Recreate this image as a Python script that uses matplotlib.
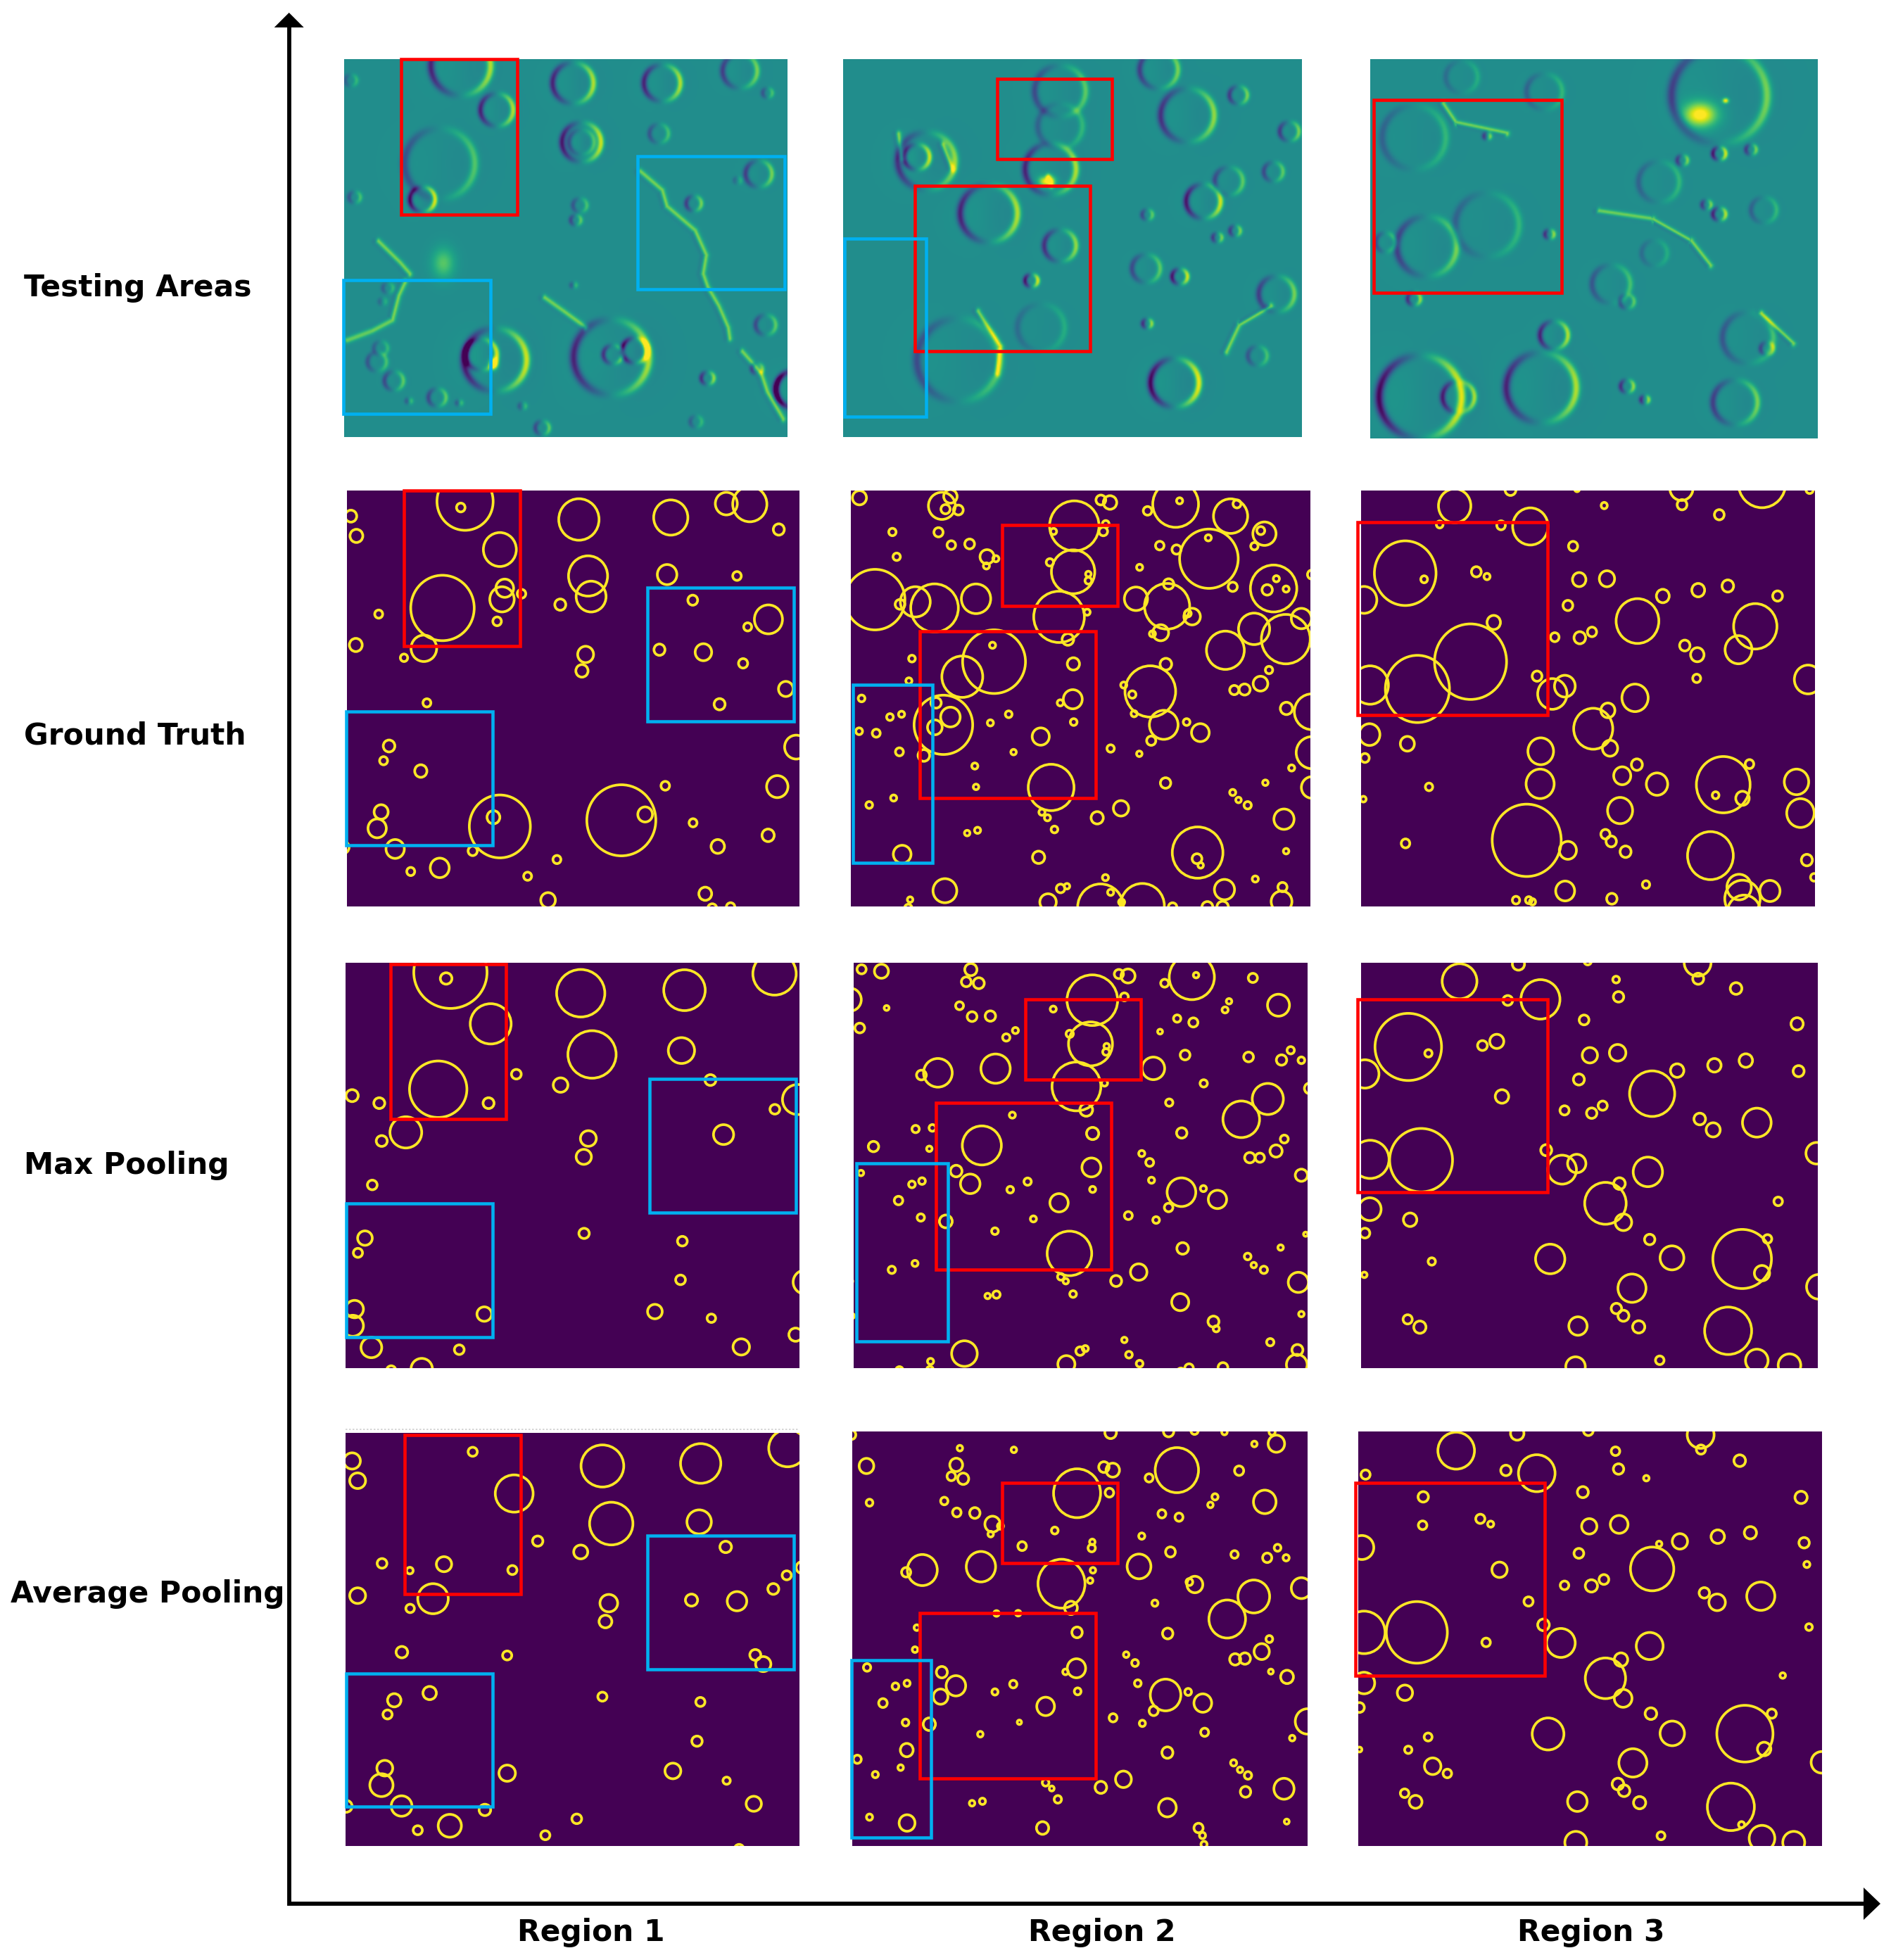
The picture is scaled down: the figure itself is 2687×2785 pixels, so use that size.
import numpy as np
import matplotlib
matplotlib.use("Agg")
import matplotlib.pyplot as plt
from matplotlib.patches import Ellipse, Rectangle, Polygon

# ---- row / column labels
row_labels = ["Testing Areas", "Ground Truth", "Max Pooling", "Average Pooling"]
col_labels = ["Region 1", "Region 2", "Region 3"]

# ---- craters: (x, y, r) in each panel's reading grid
gt_r1 = [(440,82,92),(426,104,14),(66,135,19),(84,206,21),(554,255,54),(366,465,104),(570,394,29),(561,434,40),(625,414,14),(545,513,14),(157,487,13),(82,598,21),(305,610,42),(240,644,12),(752,453,18),(813,147,66),(1114,140,56),(1296,90,36),(1373,92,56),(1468,183,18),(843,350,64),(853,424,49),(1102,345,32),(1331,350,14),(835,632,26),(823,691,20),(1186,437,16),(1434,506,46),(1366,533,13),(1077,615,18),(1221,624,27),(1351,664,15),(1491,756,24),(1274,811,18),(315,806,13),(191,961,19),(173,1014,13),(295,1051,20),(165,1198,23),(152,1257,30),(533,1217,21),(554,1250,100),(952,1228,113),(1030,1207,24),(1096,1104,14),(1187,1237,13),(1268,1322,22),(1433,1282,20),(1463,1107,35),(1525,965,38),(211,1331,30),(465,1338,15),(357,1399,31),(262,1412,13),(741,1369,13),(645,1429,13),(712,1515,24),(1227,1492,21),(1250,1545,15),(1310,1540,14),(40,1325,20)]
gt_r2 = [(72,69,23),(342,98,44),(370,64,22),(354,110,15),(396,113,16),(180,192,12),(331,193,15),(373,239,14),(433,235,16),(194,281,12),(490,281,23),(519,288,10),(488,314,10),(123,435,98),(255,443,49),(318,465,78),(205,452,16),(454,432,48),(776,170,81),(863,77,16),(893,86,22),(879,163,11),(708,190,10),(871,190,14),(1016,116,14),(1121,80,10),(1108,92,75),(1288,135,56),(1309,91,13),(1056,241,14),(1111,255,15),(1217,288,96),(1215,213,10),(1399,198,38),(1387,187,13),(1366,243,12),(990,319,10),(772,335,71),(696,301,12),(822,343,9),(822,367,11),(726,497,83),(818,480,10),(755,578,19),(978,432,38),(1080,459,74),(1085,379,17),(1162,496,27),(1148,485,11),(1059,554,26),(1032,558,10),(1295,389,15),(1429,395,76),(1438,360,10),(1408,400,17),(1470,397,10),(1365,540,51),(1271,617,62),(1469,577,80),(1520,503,33),(1555,345,15),(513,658,103),(409,712,67),(508,599,10),(244,647,11),(234,727,10),(773,666,20),(771,793,31),(730,806,10),(1076,667,19),(1025,765,83),(938,742,10),(966,776,12),(1414,688,12),(1386,737,24),(1300,760,15),(1334,758,18),(1471,826,20),(1555,838,58),(79,790,11),(172,857,11),(210,847,10),(71,908,11),(127,915,13),(347,885,96),(323,806,17),(370,857,32),(319,894,24),(561,847,11),(501,878,10),(774,875,11),(666,927,28),(972,845,10),(1069,885,47),(1144,875,11),(1189,913,29),(1028,942,15),(203,982,13),(283,995,19),(577,983,9),(895,970,12),(989,989,9),(1555,985,52),(1488,1040,10),(450,1033,10),(454,1108,9),(700,1110,75),(1075,1094,17),(1402,1093,9),(1295,1128,10),(1314,1155,9),(1344,1174,12),(1555,1110,35),(184,1148,10),(104,1173,11),(670,1199,10),(688,1219,10),(711,1261,11),(851,1219,20),(929,1185,25),(1463,1224,33),(425,1274,9),(459,1264,10),(212,1350,29),(659,1361,20),(1180,1344,83),(1178,1366,16),(1190,1390,9),(1470,1339,9),(878,1434,10),(1369,1439,10),(352,1481,39),(238,1513,9),(232,1543,12),(731,1473,14),(752,1465,9),(1268,1477,33),(1458,1468,15),(1455,1520,34),(862,1540,75),(999,1535,72),(895,1487,10),(931,1522,10),(690,1522,27),(1098,1540,14),(1212,1540,18),(1262,1540,19)]
gt_r3 = [(362,98,53),(545,40,18),(763,38,8),(1105,35,38),(1107,94,16),(1369,15,78),(1525,40,12),(852,97,10),(1229,130,16),(313,165,11),(514,168,14),(610,172,58),(750,243,15),(200,340,101),(262,362,11),(433,335,16),(468,352,10),(770,363,22),(861,360,25),(65,436,42),(1044,422,21),(1160,401,21),(1257,386,19),(1420,422,16),(733,456,16),(961,512,70),(1347,531,71),(490,517,22),(414,658,118),(690,570,14),(772,572,19),(812,551,15),(1116,600,17),(1157,633,22),(1292,615,44),(632,710,16),(1155,718,13),(1520,722,45),(85,742,60),(240,756,105),(682,774,48),(723,746,34),(953,788,43),(816,899,64),(864,833,23),(871,969,25),(83,920,34),(207,953,23),(644,980,42),(68,1004,14),(959,1028,18),(1328,1026,14),(1242,1100,88),(911,1068,28),(1025,1098,35),(642,1097,46),(1482,1090,40),(278,1108,12),(1217,1138,11),(1305,1149,22),(63,1152,9),(904,1193,41),(1495,1202,45),(598,1300,113),(733,1336,28),(856,1278,15),(875,1304,17),(922,1341,18),(201,1311,14),(1200,1355,75),(1516,1371,18),(724,1482,31),(989,1459,12),(1294,1468,40),(1305,1510,58),(1395,1482,33),(1540,1433,12),(563,1515,12),(605,1515,11),(617,1521,10),(877,1510,17),(1310,1560,55)]
max_r1 = [(392,80,120),(378,102,19),(524,265,67),(819,155,79),(1159,144,68),(1454,85,71),(856,375,79),(1149,361,43),(352,500,94),(608,446,16),(753,485,24),(70,523,20),(159,550,18),(517,550,18),(246,655,52),(167,686,18),(844,677,26),(829,743,25),(136,844,16),(1244,467,18),(1530,537,50),(1455,572,16),(1287,663,33),(830,1018,17),(1152,1046,16),(112,1035,24),(89,1088,15),(78,1290,29),(72,1350,35),(503,1308,24),(1146,1185,16),(1062,1299,24),(1247,1323,14),(1555,1193,40),(1523,1382,22),(1345,1426,27),(133,1428,34),(421,1436,16),(298,1505,35),(198,1510,15)]
max_r2 = [(79,69,15),(144,76,23),(437,70,20),(422,114,16),(463,119,18),(40,178,38),(161,208,8),(400,200,13),(441,239,16),(501,237,17),(73,280,16),(553,314,12),(583,289,10),(835,180,83),(922,86,15),(952,93,23),(940,168,13),(1161,97,74),(1175,90,9),(1072,119,13),(1361,100,15),(1445,198,36),(1283,184,9),(1270,215,10),(707,212,10),(1113,246,12),(1166,260,15),(1057,293,8),(829,337,72),(761,301,12),(882,345,9),(880,366,11),(783,490,80),(875,478,10),(815,574,21),(1035,425,37),(1139,377,16),(1347,384,16),(1455,395,17),(1485,360,12),(1520,396,11),(329,441,47),(275,449,16),(518,426,48),(1200,479,12),(1087,548,12),(1410,535,51),(1323,608,60),(1548,497,18),(573,593,10),(256,643,12),(311,639,11),(473,702,64),(301,714,9),(118,706,17),(836,659,20),(1128,657,17),(1464,679,13),(1437,722,20),(1351,746,17),(1384,746,15),(997,731,10),(1023,763,13),(832,781,31),(77,801,9),(389,794,19),(244,842,11),(277,830,11),(435,840,32),(623,832,12),(566,861,11),(836,860,10),(1029,827,10),(1127,870,47),(1199,857,10),(1245,896,30),(1085,925,14),(1520,809,20),(200,900,14),(726,908,30),(273,961,12),(355,975,21),(642,966,10),(953,954,13),(1044,970,11),(516,1010,11),(760,1090,73),(1534,1021,7),(1131,1072,19),(1452,1069,9),(1344,1101,11),(1364,1132,9),(1397,1149,12),(254,1126,10),(178,1149,12),(732,1174,11),(748,1190,9),(987,1157,27),(913,1189,18),(1510,1194,33),(772,1236,11),(492,1243,9),(521,1238,12),(1123,1265,28),(1520,1308,9),(1232,1335,18),(1241,1361,10),(40,1190,10),(48,1315,8),(940,1401,9),(1418,1409,12),(416,1450,42),(305,1478,10),(303,1508,11),(795,1441,14),(812,1432,10),(955,1454,11),(990,1486,11),(1507,1437,18),(1505,1490,34),(750,1488,28),(1263,1500,16),(1152,1502,14),(1125,1515,12),(203,1510,12)]
max_r3 = [(378,112,57),(571,50,20),(798,40,12),(1158,45,44),(1160,103,18),(891,106,11),(1284,138,19),(899,168,17),(536,181,16),(643,177,64),(786,251,16),(1484,265,20),(210,348,109),(276,371,12),(453,343,16),(500,328,23),(805,378,25),(896,369,27),(68,445,46),(1091,433,22),(1213,414,22),(1316,397,22),(1489,435,18),(769,465,18),(1009,516,74),(517,526,22),(722,576,15),(811,586,17),(847,559,15),(1165,607,19),(1209,646,23),(1352,620,47),(662,719,18),(85,752,62),(252,755,103),(714,789,47),(762,767,30),(995,797,48),(1548,730,35),(902,839,19),(856,910,68),(915,978,27),(84,931,37),(216,969,22),(1422,903,14),(68,1017,16),(1001,1040,17),(1304,1110,96),(1387,1038,14),(1074,1106,39),(675,1110,48),(287,1119,12),(66,1167,9),(1369,1161,25),(943,1215,46),(1555,1210,40),(892,1288,17),(915,1314,18),(208,1327,15),(248,1355,20),(965,1354,20),(766,1351,30),(1258,1368,77),(1034,1474,14),(758,1497,32),(1352,1475,37),(1459,1492,37)]
avg_r1 = [(465,121,15),(70,154,27),(88,225,26),(890,172,70),(1212,163,66),(1497,108,62),(601,271,62),(919,379,71),(1207,373,40),(678,442,17),(819,481,23),(168,522,16),(371,525,25),(259,548,11),(595,546,15),(88,638,26),(335,649,50),(260,684,14),(911,665,29),(900,731,21),(1294,463,19),(1545,537,20),(1494,565,15),(1450,614,18),(1182,654,20),(1331,658,32),(233,841,19),(578,853,15),(1391,851,18),(1417,884,25),(890,1001,15),(1211,1020,15),(324,988,22),(208,1014,22),(186,1065,15),(1200,1161,17),(177,1258,26),(166,1319,38),(578,1276,27),(1121,1268,26),(1297,1303,12),(232,1394,34),(505,1408,19),(1386,1386,25),(50,1395,20),(390,1465,38),(285,1481,15),(806,1440,16),(703,1499,15),(1338,1548,15)]
avg_r2 = [(45,60,15),(895,52,19),(1085,48,17),(1170,45,12),(1268,50,9),(1424,50,10),(401,108,9),(578,114,9),(1366,93,9),(1438,92,27),(95,172,24),(389,168,21),(373,209,14),(412,218,18),(785,270,77),(873,176,17),(902,187,22),(1021,215,13),(1112,187,71),(1316,189,15),(891,268,14),(105,304,11),(350,298,12),(391,339,14),(450,341,17),(1237,283,10),(1222,312,9),(1400,301,37),(1063,344,13),(1119,356,13),(508,381,25),(534,388,10),(502,417,9),(712,404,11),(997,424,10),(605,460,14),(835,445,9),(833,467,12),(1091,481,16),(1301,490,12),(1408,502,15),(1442,466,11),(1470,502,10),(278,546,49),(225,554,15),(470,534,48),(734,595,77),(837,547,9),(828,584,9),(988,533,39),(1171,598,26),(1153,589,11),(1040,665,10),(1364,641,52),(1277,722,60),(1520,611,33),(765,682,21),(521,702,9),(592,701,9),(260,753,9),(785,770,17),(1082,774,17),(1415,794,11),(1390,839,25),(254,832,9),(97,896,12),(783,899,30),(747,912,9),(946,850,9),(975,880,11),(1303,867,18),(1335,864,18),(1420,911,8),(1473,930,21),(342,913,18),(388,962,32),(338,1001,24),(190,964,11),(228,953,10),(576,956,12),(516,984,10),(787,982,11),(984,953,11),(1075,995,50),(1149,984,11),(1197,1024,29),(1036,1052,15),(149,1024,14),(682,1036,29),(903,1077,13),(223,1094,11),(301,1100,20),(596,1093,7),(999,1097,10),(1540,1090,40),(1203,1129,13),(1490,1150,9),(468,1136,9),(227,1193,21),(1081,1202,18),(65,1226,13),(207,1256,9),(124,1281,10),(1298,1239,10),(1319,1264,9),(1345,1284,12),(1337,1343,17),(1463,1332,33),(682,1310,11),(702,1331,8),(722,1370,12),(937,1298,26),(863,1327,19),(441,1384,9),(475,1377,10),(1081,1400,29),(105,1434,10),(228,1455,26),(672,1473,20),(1183,1473,15),(1196,1500,10),(1201,1532,10),(1472,1450,8)]
avg_r3 = [(367,117,60),(567,55,22),(800,45,16),(1168,60,44),(1169,113,15),(889,119,14),(1296,153,19),(70,203,15),(530,188,17),(899,183,17),(990,216,9),(631,198,60),(782,266,18),(1497,285,20),(259,283,17),(257,385,14),(446,362,15),(480,381,10),(803,389,25),(901,382,29),(58,465,39),(1032,452,9),(1100,443,25),(1224,426,22),(1331,412,20),(1507,448,17),(769,486,16),(1516,526,10),(1009,542,71),(509,545,25),(722,601,14),(810,603,20),(851,580,16),(1180,628,17),(1222,662,27),(1365,640,46),(604,659,15),(653,743,19),(1523,751,11),(65,770,69),(238,770,100),(710,808,47),(1001,819,44),(856,935,66),(907,868,22),(914,1007,29),(65,952,35),(199,987,25),(50,1040,16),(465,806,14),(1437,925,9),(1005,1062,19),(1313,1134,92),(1401,1062,15),(1075,1133,40),(668,1135,52),(275,1146,13),(210,1192,12),(50,1191,8),(1376,1189,22),(946,1239,46),(1565,1237,35),(290,1251,27),(338,1277,14),(897,1315,19),(917,1339,19),(198,1348,14),(234,1379,21),(968,1382,20),(764,1378,32),(1267,1397,77),(1302,1461,10),(1038,1501,13),(759,1525,36),(1369,1510,42),(1473,1525,36)]

# ---- terrain features of the top row: rims (x, y, r, strength)
terrain_r1 = [(435,85,95,.9),(550,250,52,.9),(368,450,112,.55),(313,583,40,1.1),(97,575,18,.5),(85,140,18,.4),(793,150,65,.9),(1077,150,58,.9),(1325,105,55,.7),(1413,187,15,.5),(820,370,62,1.0),(820,370,40,.6),(1067,338,30,.5),(815,605,22,.5),(802,660,16,.6),(1385,488,42,.7),(1178,598,24,.7),(1318,512,10,.3),(1407,1050,32,.6),(203,913,16,.4),(186,963,10,.3),(180,1137,22,.4),(168,1187,30,.5),(222,1258,30,.6),(360,1320,28,.6),(270,1333,8,.4),(430,1340,8,.4),(545,1180,100,1.0),(500,1160,50,1.0),(915,1170,120,.9),(990,1145,40,1.2),(920,1160,30,.8),(1222,1248,20,.8),(1380,1213,17,.6),(1185,1410,18,.4),(695,1433,22,.6),(795,902,8,.4),(632,1352,10,.4),(1500,1290,60,1.6)]
terrain_r2 = [(560,270,42,.8),(640,195,14,.7),(135,425,20,1.0),(150,440,45,.8),(345,470,40,.9),(248,635,45,.9),(360,755,25,.8),(315,885,10,1.0),(548,870,12,1.0),(585,590,27,1.0),(497,640,8,.6),(635,700,8,.7),(607,725,7,.7),(495,840,22,.6),(497,1045,7,.8),(700,935,28,.7),(670,1165,15,.5),(540,1265,38,1.1),(720,330,15,.7),(695,480,15,.6),(625,515,22,.6),(360,180,40,.6),(360,310,35,.4),(330,1060,37,.3),(200,1180,65,.6),(515,100,30,.7)]
terrain_r3 = [(1395,200,75,.7),(1395,415,10,1.0),(1445,400,8,.7),(1337,440,8,.7),(1300,520,32,.4),(1465,625,20,.4),(1395,640,10,.9),(1375,605,7,.7),(1293,785,20,.3),(1225,900,30,.5),(1250,965,11,.6),(915,355,50,.4),(935,760,47,.7),(1030,680,50,.4),(870,745,15,.6),(1135,1090,22,.9),(1115,1285,55,.9),(925,1320,65,1.1),(985,1320,25,.9),(1250,1280,10,.8),(1278,1330,6,.8),(1420,1340,35,.7),(1440,1100,40,.5),(1470,1140,10,.6),(915,955,10,.8),(1030,350,5,.7),(1128,715,7,.8),(1120,185,28,.4),(990,130,25,.3)]
# ---- scarps of the top row: polylines of (x, y)
ridges_r1 = [[(1005,480),(1075,550),(1090,610),(1180,700),(1215,790),(1205,860),(1220,910),(1255,980),(1285,1060),(1290,1100)],[(70,1105),(150,1070),(215,1030),(235,940),(255,890)],[(170,740),(240,820),(270,860)],[(700,950),(760,1000),(830,1060)],[(1330,1150),(1390,1230),(1410,1300),(1460,1400)]]
ridges_r2 = [[(620,1150),(640,1050),(690,980)],[(230,1000),(265,1130),(260,1230)],[(105,340),(110,430)],[(175,380),(190,470)],[(340,500),(345,530)]]
ridges_r3 = [[(1205,630),(1290,660),(1350,740),(1380,830)],[(960,230),(980,300),(1060,340)],[(1460,1010),(1510,1120)]]
# ---- bright spots: (x, y, sx, sy, strength)
bright_r1 = [(540,1195,14,20,.6),(380,820,35,55,.25)]
bright_r2 = [(340,515,12,20,.6)]
bright_r3 = [(1365,270,26,45,.55),(1405,218,5,10,.5)]

# ---- highlight boxes: (x0, y0, x1, y1)
red_boxes = {
 (0,0):[(247,62,615,640)], (0,1):[(262,137,442,435),(133,532,408,1148)], (0,2):[(852,214,1147,930)],
 (1,0):[(240,42,620,602)], (1,1):[(540,168,917,458),(270,550,847,1148)], (1,2):[(43,156,667,851)],
 (2,0):[(196,50,574,608)], (2,1):[(615,178,993,466),(322,550,897,1148)], (2,2):[(43,178,667,871)],
 (3,0):[(243,60,622,632)], (3,1):[(540,232,917,520),(270,700,847,1295)], (3,2):[(37,232,657,925)],
}
blue_boxes = {
 (0,0):[(63,884,530,1380),(1000,423,1467,917)], (0,1):[(22,730,150,1390)],
 (1,0):[(50,838,530,1317),(1038,392,1518,872)], (1,1):[(50,741,312,1382)],
 (2,0):[(50,910,530,1390),(1045,464,1525,943)], (2,1):[(62,766,361,1406)],
 (3,0):[(50,917,530,1395),(1038,423,1518,903)], (3,1):[(47,869,307,1507)],
}

# ---- layout: source window (x, y, w, h) of the reading grid, panel limits, circle stretch
W, H = 2687, 2785
GRID = 1568
layout = {
 (0,0):((460,60,700,600),(65,1475,63,1465),1.17), (0,1):((1180,60,1420,600),(20,739,63,1465),2.37), (0,2):((1180,60,1420,600),(847,1549,63,1472),2.37),
 (1,0):((470,680,680,620),(52,1536,42,1537),1.13), (1,1):((1190,680,680,620),(44,1550,42,1537),1.11), (1,2):((1910,680,680,620),(55,1543,42,1537),1.15),
 (2,0):((470,1350,680,620),(48,1536,46,1503),1.08), (2,1):((1190,1350,680,620),(52,1540,46,1503),1.096), (2,2):((1910,1350,680,620),(55,1553,46,1503),1.107),
 (3,0):((470,2015,680,620),(48,1536,53,1537),1.08), (3,1):((1190,2015,680,620),(48,1540,48,1537),1.14), (3,2):((1910,2015,680,620),(46,1566,48,1537),1.107),
}
craters = {(1,0):gt_r1,(1,1):gt_r2,(1,2):gt_r3,(2,0):max_r1,(2,1):max_r2,(2,2):max_r3,(3,0):avg_r1,(3,1):avg_r2,(3,2):avg_r3}
terrain = {0:(terrain_r1,ridges_r1,bright_r1),1:(terrain_r2,ridges_r2,bright_r2),2:(terrain_r3,ridges_r3,bright_r3)}

BG = plt.get_cmap("viridis")(0.0)
YELLOW = "#fde725"
RED = "#ff0000"
BLUE = "#00b0f0"

def seg_dist(X, Y, a, b):
    ax_, ay_ = a; bx_, by_ = b
    dx, dy = bx_-ax_, by_-ay_
    t = np.clip(((X-ax_)*dx + (Y-ay_)*dy)/(dx*dx+dy*dy+1e-9), 0, 1)
    return X-(ax_+t*dx), Y-(ay_+t*dy)

def make_terrain(ext, k, rims, ridges, spots, xunit):
    x0, x1, y0, y1 = ext
    nx, ny = 420, 340
    X, Y = np.meshgrid(np.linspace(x0, x1, nx), np.linspace(y0, y1, ny))
    Z = np.full(X.shape, 0.49)
    for cx, cy, r, s in rims:
        dx = X-cx; dy = (Y-cy)/k
        d = np.hypot(dx, dy)
        th = dx/(d+1e-6)
        w = 7*xunit + 0.06*r
        Z += 0.46*s*np.exp(-((d-r)/w)**2)*th
        Z -= 0.06*s*np.exp(-(d/r)**2)*(dx/(r+1e-6))
    for line in ridges:
        best = np.full(X.shape, 1e9); sx = np.zeros(X.shape)
        for a, b in zip(line[:-1], line[1:]):
            ux, uy = seg_dist(X, Y, a, b)
            uy = uy/k
            dd = np.hypot(ux, uy)
            m = dd < best
            best[m] = dd[m]; sx[m] = ux[m]
        w = 11*xunit
        Z += 0.36*np.exp(-(best/w)**2)*np.clip(0.7+sx/w, -1, 1)
    for cx, cy, sx_, sy_, a in spots:
        Z += a*np.exp(-((X-cx)/sx_)**2-((Y-cy)/sy_)**2)
    return np.clip(Z, 0, 1)

fig = plt.figure(figsize=(W/100, H/100), dpi=100, facecolor="white")

def box_lines(ax, boxes, color):
    for x0, y0, x1, y1 in boxes:
        ax.add_patch(Rectangle((x0, y0), x1-x0, y1-y0, fill=False, ec=color, lw=3.3,
                               joinstyle="miter", clip_on=False, zorder=5))

for (r, c), (crop, ext, k) in layout.items():
    cx, cy, cw, ch = crop
    sx, sy = GRID/cw, GRID/ch
    x0, x1, y0, y1 = ext
    left = (cx + x0/sx)/W
    right = (cx + x1/sx)/W
    top = (cy + y0/sy)/H
    bottom = (cy + y1/sy)/H
    ax = fig.add_axes([left, 1-bottom, right-left, bottom-top])
    ax.set_xlim(x0, x1); ax.set_ylim(y1, y0)
    ax.axis("off")
    if r == 0:
        rims, ridges, spots = terrain[c]
        unit = 1.0 if c == 0 else 0.5
        Z = make_terrain(ext, k, rims, ridges, spots, unit)
        ax.imshow(Z, cmap="viridis", vmin=0, vmax=1, extent=(x0, x1, y1, y0), aspect="auto", interpolation="bilinear")
        ax.set_xlim(x0, x1); ax.set_ylim(y1, y0)
    else:
        ax.add_patch(Rectangle((x0, y0), x1-x0, y1-y0, fc=BG, ec="none", zorder=0))
        for px, py, pr in craters[(r, c)]:
            ax.add_patch(Ellipse((px, py), 2*pr, 2*pr*k, fill=False, ec=YELLOW, lw=2.7, zorder=2))
    box_lines(ax, red_boxes.get((r, c), []), RED)
    box_lines(ax, blue_boxes.get((r, c), []), BLUE)

# ---- overlay: arrows and labels
ov = fig.add_axes([0, 0, 1, 1], facecolor="none")
ov.set_xlim(0, W); ov.set_ylim(H, 0); ov.axis("off")
AX_X, AX_Y = 410.7, 2705
ov.plot([AX_X, AX_X, 2650], [30, AX_Y, AX_Y], color="black", lw=4.2, solid_joinstyle="miter", solid_capstyle="butt")
ov.add_patch(Polygon([(AX_X-21, 39), (AX_X, 18), (AX_X+21, 39)], fc="black", ec="none"))
ov.add_patch(Polygon([(2648, AX_Y-23), (2672, AX_Y), (2648, AX_Y+23)], fc="black", ec="none"))
ov.plot([491, 1136], [2031, 2031], color="#d0d0d0", lw=1.2, ls=(0, (1.5, 1.5)))

label_pos = [(34, 421), (34, 1057), (34, 1668), (15, 2277)]
for t, (x, y) in zip(row_labels, label_pos):
    ov.text(x, y, t, fontsize=30.5, fontweight="bold", family="DejaVu Sans", ha="left", va="baseline", color="black")
for t, x in zip(col_labels, [840, 1566, 2261]):
    ov.text(x, 2758, t, fontsize=30.5, fontweight="bold", family="DejaVu Sans", ha="center", va="baseline", color="black")

fig.savefig("out.png", dpi=100, facecolor="white")
